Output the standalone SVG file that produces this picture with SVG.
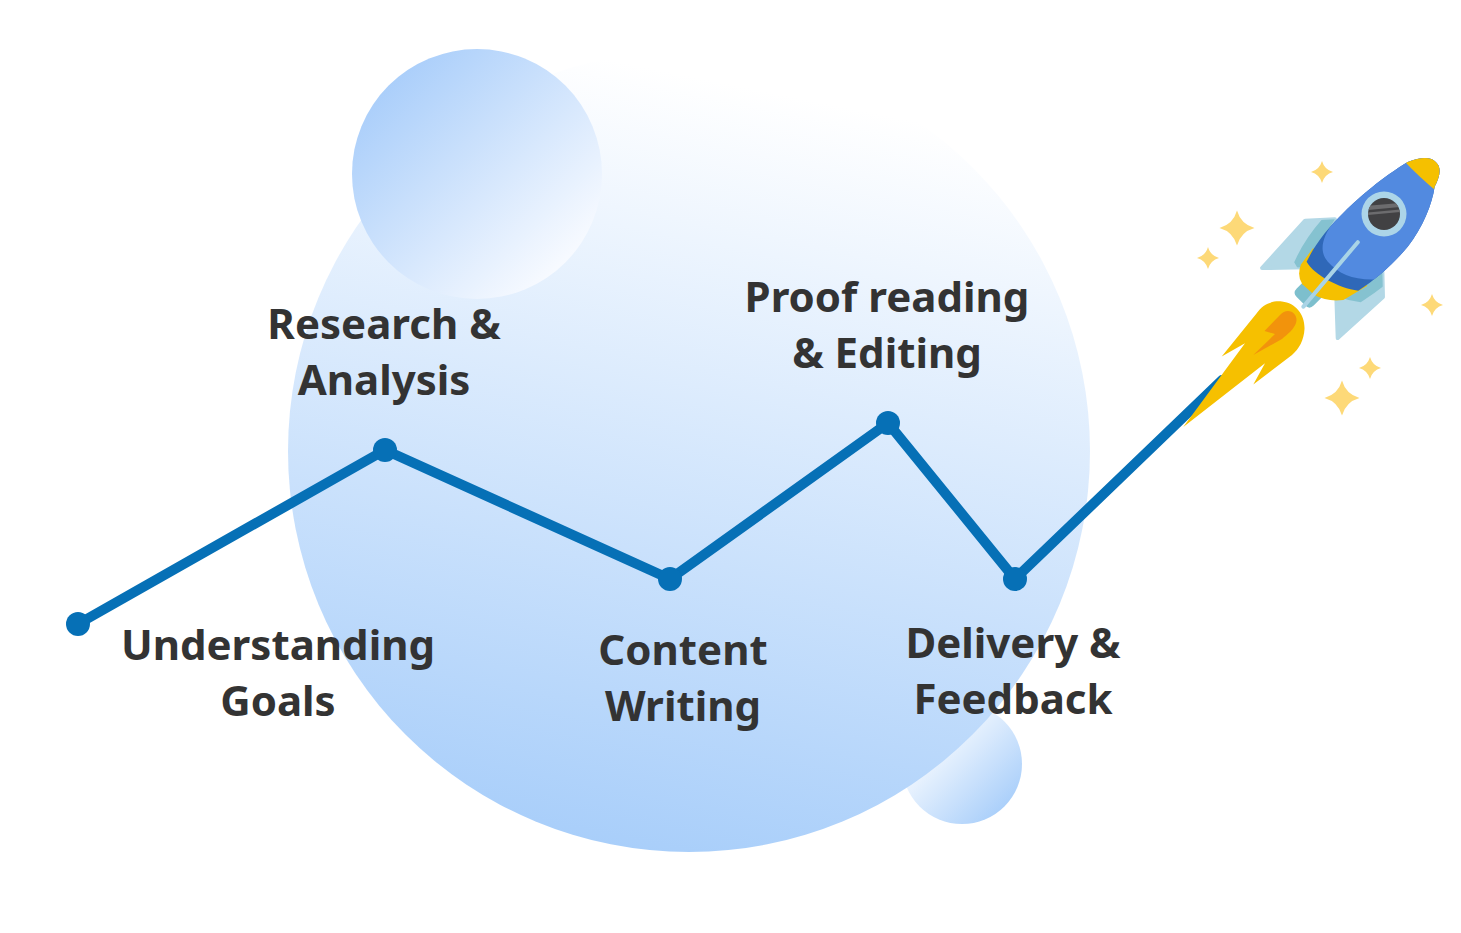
<svg xmlns="http://www.w3.org/2000/svg" xmlns:xlink="http://www.w3.org/1999/xlink" width="1461" height="933" viewBox="0 0 1461 933">
<defs>
<style>
.lbl{font-family:"Noto Sans","Open Sans","Liberation Sans",sans-serif;font-weight:700;font-size:42px;fill:#333333;text-anchor:middle}
.dot{fill:#0670b6}
.star{fill:#fdd978}
</style>
<linearGradient id="gBig" x1="0.6" y1="0" x2="0.4" y2="1">
<stop offset="0.05" stop-color="#ffffff"/>
<stop offset="1" stop-color="#a8cefa"/>
</linearGradient>
<linearGradient id="gTop" x1="0.12" y1="0.12" x2="0.85" y2="0.85">
<stop offset="0" stop-color="#a8cdfa"/>
<stop offset="1" stop-color="#f7faff"/>
</linearGradient>
<linearGradient id="gBot" x1="0.2" y1="0.2" x2="0.88" y2="0.88">
<stop offset="0" stop-color="#ffffff"/>
<stop offset="1" stop-color="#a8cefa"/>
</linearGradient>
<path id="starShape" d="M0,-10 Q2.2,-2.2 10,0 Q2.2,2.2 0,10 Q-2.2,2.2 -10,0 Q-2.2,-2.2 0,-10 Z"/>
<path id="bodyPath" d="M -20,20 C -14,6 -7,0 0,0 C 8,0 13,7 16.5,18.5 C 27,32 37,56 40,80 C 42,100 41,124 36,146 C 20,158 -6,166 -21,162 C -27,145 -30,122 -29.5,100 C -29.5,80 -27,48 -20,20 Z"/>
<clipPath id="bodyClip"><use xlink:href="#bodyPath"/></clipPath>
<clipPath id="finClip">
<path d="M -48,198 L -51,134 L -31,112 L -18,167 Z M 55,194 L 58,133 L 36,112 L 24,165 Z"/>
</clipPath>
<clipPath id="winClip"><circle cx="1384" cy="214" r="16"/></clipPath>
</defs>

<rect width="1461" height="933" fill="#ffffff"/>

<g id="background">
<circle cx="962" cy="764" r="60" fill="url(#gBot)"/>
<circle cx="689" cy="451" r="401" fill="url(#gBig)"/>
<circle cx="477" cy="174" r="125" fill="url(#gTop)"/>
</g>

<g id="sparkles">
<use xlink:href="#starShape" class="star" transform="translate(1322,172) scale(1.1)"/>
<use xlink:href="#starShape" class="star" transform="translate(1237,228) scale(1.75)"/>
<use xlink:href="#starShape" class="star" transform="translate(1208,258) scale(1.1)"/>
<use xlink:href="#starShape" class="star" transform="translate(1432,305) scale(1.1)"/>
<use xlink:href="#starShape" class="star" transform="translate(1370,368) scale(1.1)"/>
<use xlink:href="#starShape" class="star" transform="translate(1342,398) scale(1.75)"/>
</g>

<g id="connectors">
<polyline points="78,624 385,450 670,579 888,423 1015,579 1222,380" fill="none" stroke="#0670b6" stroke-width="10" stroke-linejoin="round" stroke-linecap="round"/>
</g>

<g id="node-understanding">
<circle class="dot" cx="78" cy="624" r="12"/>
<text class="lbl" x="278" y="660">Understanding</text>
<text class="lbl" x="278" y="716">Goals</text>
</g>
<g id="node-research">
<circle class="dot" cx="385" cy="450" r="12"/>
<text class="lbl" x="384" y="339">Research &amp;</text>
<text class="lbl" x="384" y="395">Analysis</text>
</g>
<g id="node-content">
<circle class="dot" cx="670" cy="579" r="12"/>
<text class="lbl" x="683" y="665">Content</text>
<text class="lbl" x="683" y="721">Writing</text>
</g>
<g id="node-proof">
<circle class="dot" cx="888" cy="423" r="12"/>
<text class="lbl" x="887" y="312">Proof reading</text>
<text class="lbl" x="887" y="368">&amp; Editing</text>
</g>
<g id="node-delivery">
<circle class="dot" cx="1015" cy="579" r="12"/>
<text class="lbl" x="1013" y="658">Delivery &amp;</text>
<text class="lbl" x="1013" y="714">Feedback</text>
</g>

<g id="rocket">
<g id="flame">
<path d="M 1256.7,313.3 C 1263,304 1272,300.5 1282,301.5 C 1296,303 1305,315 1304.5,329 C 1304,340 1299,349 1292,355 L 1253.3,384.5 L 1265,363.3 L 1183.3,427 L 1245,343.3 L 1221.7,356.5 Z" fill="#f6c000"/>
<path d="M 1288,311 C 1294,311 1298,317 1296,323 C 1294,329 1288,334 1282,339 L 1253.3,355 L 1275,334 L 1264.5,331 L 1280,315 C 1282.5,312.5 1285,311 1288,311 Z" fill="#f2930c"/>
</g>
<g transform="translate(1436,162) rotate(45)">
<path d="M -48,198 L -51,134 L -31,112 L -18,167 Z M 55,194 L 58,133 L 36,112 L 24,165 Z" fill="#b3d8e6" stroke="#b3d8e6" stroke-width="4" stroke-linejoin="round"/>
<g clip-path="url(#finClip)">
<use xlink:href="#bodyPath" fill="none" stroke="#85c2d0" stroke-width="22"/>
</g>
<path d="M -9,172 L 15,170 L 15,188 Q 15,194 9,194 L -3,194 Q -9,194 -9,188 Z" fill="#7dbfcd"/>
<path d="M -26,148 L 39,136 L 32,163 Q 22,176 8,180 L -8,181 Q -18,179 -23,168 Z" fill="#f5c000"/>
<g clip-path="url(#bodyClip)">
<rect x="-60" y="-10" width="130" height="200" fill="#2f68b8"/>
<path d="M -60,-10 L 70,-10 L 70,122 L 40,126 C 25,142 10,148 -6,147 C -20,146 -27,134 -30,115 L -60,110 Z" fill="#528ae0"/>
<path d="M -40,-10 L 40,-10 L 40,18 Q 0,24 -40,21 Z" fill="#f5c000"/>
</g>
<line x1="1.4" y1="112" x2="8.5" y2="196" stroke="#a9d4e6" stroke-width="4" stroke-linecap="round"/>
</g>
<circle cx="1384" cy="214" r="22.5" fill="#acd5e8"/>
<circle cx="1384" cy="214" r="16" fill="#414143"/>
<g clip-path="url(#winClip)" transform="rotate(-5 1384 214)">
<rect x="1364" y="204.5" width="40" height="4" fill="#6c6c6e"/>
<rect x="1364" y="211" width="40" height="2.5" fill="#6c6c6e"/>
</g>
</g>
</svg>
